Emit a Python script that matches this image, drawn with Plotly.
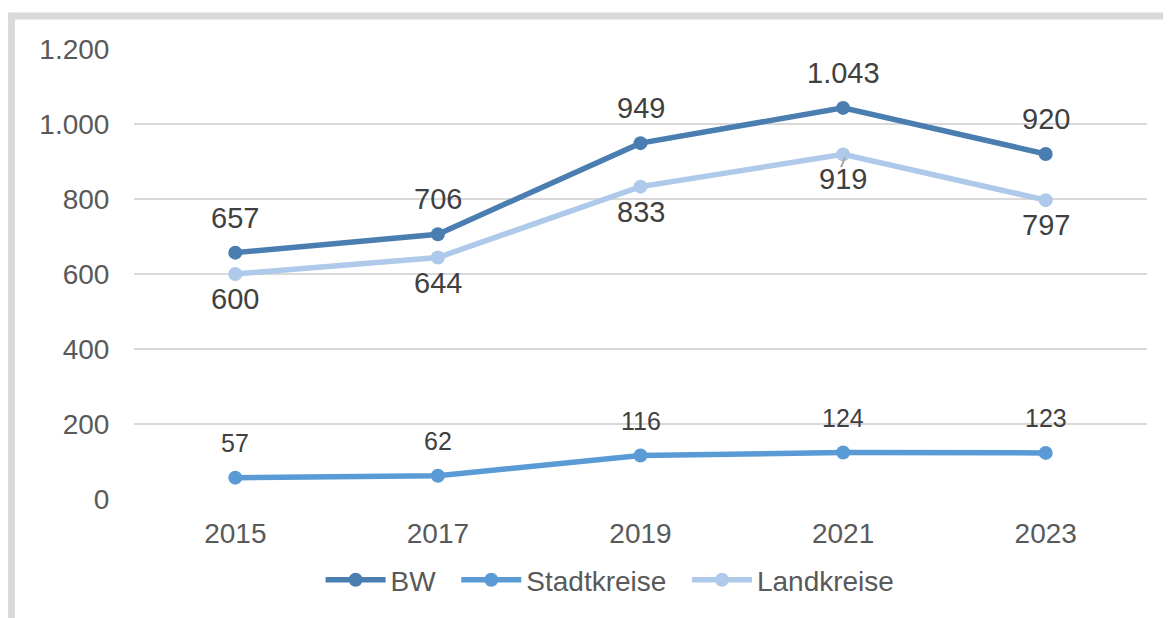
import plotly.graph_objects as go

years = ["2015", "2017", "2019", "2021", "2023"]
bw = [657, 706, 949, 1043, 920]
stadtkreise = [57, 62, 116, 124, 123]
landkreise = [600, 644, 833, 919, 797]

c_bw = "#4a7eb1"
c_sk = "#5b9bd5"
c_lk = "#aec9e9"
txt = "#595959"
lab = "#404040"
FONT = "Liberation Sans, Arial, sans-serif"
PAD = "\u00a0\u00a0"

def fmt(v):
    return f"{v:,}".replace(",", ".")

idx = list(range(len(years)))

fig = go.Figure()
for name, vals, col in [("Landkreise", landkreise, c_lk), ("Stadtkreise" + PAD, stadtkreise, c_sk), ("BW" + PAD, bw, c_bw)]:
    fig.add_trace(go.Scatter(x=idx, y=vals, name=name, mode="lines+markers",
                             line=dict(color=col, width=5.5),
                             marker=dict(color=col, size=14)))

ann = []
for i, v in zip(idx, bw):
    ann.append(dict(x=i, y=v, xref="x", yref="y", text=fmt(v), showarrow=False, yshift=35,
                    font=dict(size=29, color=lab, family=FONT)))
for i, v in zip(idx, landkreise):
    ann.append(dict(x=i, y=v, xref="x", yref="y", text=fmt(v), showarrow=False, yshift=-25,
                    font=dict(size=29, color=lab, family=FONT)))
for i, v in zip(idx, stadtkreise):
    ann.append(dict(x=i, y=v, xref="x", yref="y", text=fmt(v), showarrow=False, yshift=35,
                    font=dict(size=25, color=lab, family=FONT)))
fig.update_layout(annotations=ann)

# leader line for 2021 Landkreise label
fig.add_shape(type="line", xref="x", yref="y", x0=3.01, x1=2.99,
              y0=landkreise[3] - 8, y1=landkreise[3] - 34,
              line=dict(color="#a6a6a6", width=2))

# outer grey frame (top and left)
fig.add_shape(type="line", xref="paper", yref="paper", x0=-0.121, x1=1.06, y0=1.0733, y1=1.0733,
              line=dict(color="#d9d9d9", width=7))
fig.add_shape(type="line", xref="paper", yref="paper", x0=-0.121, x1=-0.121, y0=1.081, y1=-0.4,
              line=dict(color="#d9d9d9", width=7))

fig.update_layout(
    width=1171, height=618,
    margin=dict(l=126, r=32, t=41, b=127),
    paper_bgcolor="white", plot_bgcolor="white",
    separators=",.",
    font=dict(family=FONT, color=txt, size=24),
    showlegend=True,
    legend=dict(orientation="h", x=0.47, xanchor="center", y=-0.18, yanchor="middle",
                traceorder="reversed", font=dict(size=28, color=txt, family=FONT),
                itemwidth=60),
    xaxis=dict(range=[-0.5, 4.5], tickmode="array", tickvals=idx, ticktext=years,
               showgrid=False, showline=False, ticks="outside", ticklen=9,
               tickcolor="rgba(0,0,0,0)", zeroline=False,
               tickfont=dict(size=28, color=txt)),
    yaxis=dict(range=[0, 1200], dtick=200, tickformat=",d", showgrid=True,
               gridcolor="#d9d9d9", gridwidth=1.5, zeroline=False, showline=False,
               ticks="outside", ticklen=18, tickcolor="rgba(0,0,0,0)",
               tickfont=dict(size=28, color=txt)),
)

fig.write_html("out.html")
